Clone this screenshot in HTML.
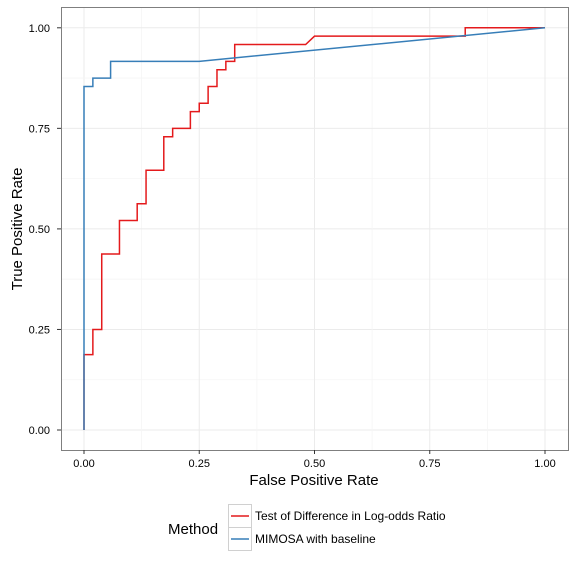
<!DOCTYPE html>
<html><head><meta charset="utf-8"><style>
body{margin:0;background:#fff;font-family:"Liberation Sans",Arial,sans-serif}
</style></head><body>
<svg width="576" height="576" xmlns="http://www.w3.org/2000/svg" font-family="Liberation Sans, Arial, sans-serif">
<g id="grid"></g>
<rect x="61.5" y="7.5" width="507" height="443" fill="none" stroke="#7f7f7f" stroke-width="1"/>
<g id="series"></g>
<g id="axes" font-size="11" fill="#000"></g>
<text x="314" y="485" font-size="15" text-anchor="middle">False Positive Rate</text>
<text transform="translate(22,229) rotate(-90)" font-size="15" text-anchor="middle">True Positive Rate</text>
<g>
<text x="168" y="534" font-size="15">Method</text>
<rect x="228.5" y="504.5" width="23" height="23" fill="#fff" stroke="#d0d0d0"/>
<rect x="228.5" y="527.5" width="23" height="23" fill="#fff" stroke="#d0d0d0"/>
<line x1="231" y1="516" x2="249" y2="516" stroke="#e41a1c" stroke-width="1.5"/>
<line x1="231" y1="539" x2="249" y2="539" stroke="#377eb8" stroke-width="1.5"/>
<text x="255" y="520" font-size="12">Test of Difference in Log-odds Ratio</text>
<text x="255" y="543" font-size="12">MIMOSA with baseline</text>
</g>
</svg>
<script>
const tickValues=[0,0.25,0.5,0.75,1];
const tickLabels=["0.00","0.25","0.50","0.75","1.00"];
const redFPR=[0,0,1/52,1/52,2/52,2/52,4/52,4/52,6/52,6/52,7/52,7/52,9/52,9/52,10/52,10/52,12/52,12/52,13/52,13/52,14/52,14/52,15/52,15/52,16/52,16/52,17/52,17/52,25/52,26/52,43/52,43/52,1];
const redTPR=[0,9/48,9/48,12/48,12/48,21/48,21/48,25/48,25/48,27/48,27/48,31/48,31/48,35/48,35/48,36/48,36/48,38/48,38/48,39/48,39/48,41/48,41/48,43/48,43/48,44/48,44/48,46/48,46/48,47/48,47/48,1,1];
const blueFPR=[0,0,1/52,1/52,3/52,3/52,13/52,1];
const blueTPR=[0,41/48,41/48,42/48,42/48,44/48,44/48,1];
const sx=v=>84+v*461, sy=v=>430-v*402.2;
const ns="http://www.w3.org/2000/svg";
const grid=document.getElementById('grid'),axes=document.getElementById('axes'),series=document.getElementById('series');
function mk(tag,attrs,parent){const e=document.createElementNS(ns,tag);for(const k in attrs)e.setAttribute(k,attrs[k]);parent.appendChild(e);return e;}
for(let i=0;i<tickValues.length;i++){
  const v=tickValues[i];
  let g=mk('line',{x1:sx(v),x2:sx(v),y1:7,y2:450,stroke:'#ebebeb','stroke-width':1},grid);
  
  
  g=mk('line',{x1:61,x2:568,y1:sy(v),y2:sy(v),stroke:'#ebebeb','stroke-width':1},grid);
  
  
  if(i<tickValues.length-1){
    const m=(v+tickValues[i+1])/2;
    g=mk('line',{x1:sx(m),x2:sx(m),y1:7,y2:450,stroke:'#f5f5f5','stroke-width':0.8},grid);
    
    
    g=mk('line',{x1:61,x2:568,y1:sy(m),y2:sy(m),stroke:'#f5f5f5','stroke-width':0.8},grid);
    
    
  }
  let t=mk('line',{x1:sx(v),x2:sx(v),y1:450,y2:454,stroke:'#333'},axes);
  
  
  t=mk('line',{x1:57,x2:61,y1:sy(v),y2:sy(v),stroke:'#333'},axes);
  
  
  let l=mk('text',{x:sx(v),y:467,'text-anchor':'middle'},axes);l.textContent=tickLabels[i];
  
  
  l=mk('text',{x:50,y:sy(v)+4,'text-anchor':'end'},axes);l.textContent=tickLabels[i];
  
  
}
function line(xs,ys,color,name){
  const p=mk('polyline',{points:xs.map((x,i)=>sx(x)+','+sy(ys[i])).join(' '),fill:'none',stroke:color,'stroke-width':1.5},series);
  
  
}
line(redFPR,redTPR,'#e41a1c','line-log-odds-test');
line(blueFPR,blueTPR,'#377eb8','line-mimosa');
</script>
</body></html>
